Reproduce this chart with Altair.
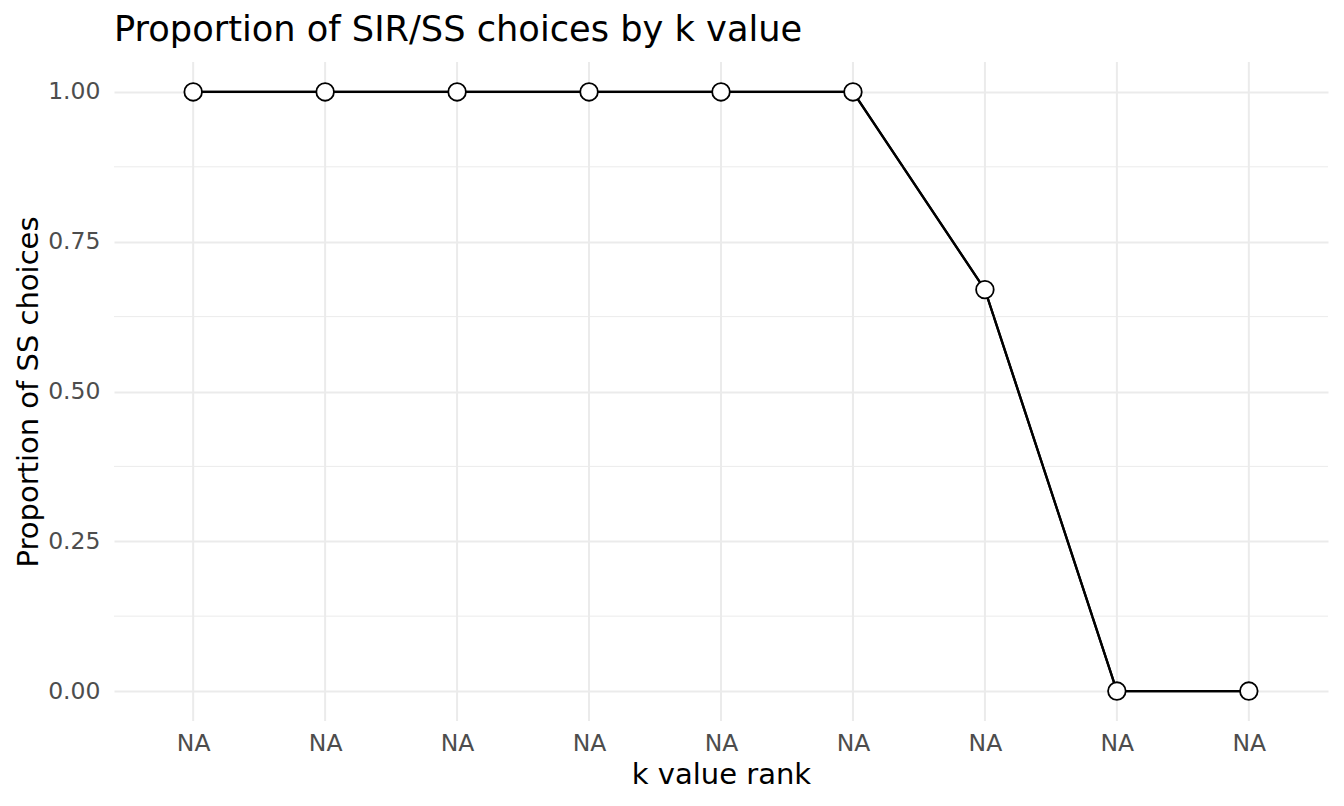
import altair as alt
import pandas as pd

# data
k_rank = [1, 2, 3, 4, 5, 6, 7, 8, 9]
tick_labels = ["NA", "NA", "NA", "NA", "NA", "NA", "NA", "NA", "NA"]
prop_ss = [1.0, 1.0, 1.0, 1.0, 1.0, 1.0, 0.67, 0.0, 0.0]
y_major = [0.0, 0.25, 0.5, 0.75, 1.0]
y_minor = [0.125, 0.375, 0.625, 0.875]

df = pd.DataFrame({"rank": k_rank, "prop": prop_ss})
minor_df = pd.DataFrame({"v": y_minor})

label_map = {str(k): lab for k, lab in zip(k_rank, tick_labels)}
label_expr = "{" + ",".join(f"'{k}':'{v}'" for k, v in label_map.items()) + "}[datum.label]"

FONT = "DejaVu Sans"
GRID = "#EBEBEB"

x_enc = alt.X(
    "rank:O",
    scale=alt.Scale(type="point", padding=0.6),
    axis=alt.Axis(
        title="k value rank",
        labelExpr=label_expr,
        labelAngle=0,
        grid=False,
        ticks=False,
        domain=False,
        labelFontSize=23.5,
        labelColor="#4D4D4D",
        labelPadding=10,
        titleFontSize=29,
        titleColor="black",
        titleFontWeight="normal",
        titlePadding=6,
    ),
)
y_scale = alt.Scale(domain=[-0.05, 1.05], nice=False, zero=False)
y_enc = alt.Y(
    "prop:Q",
    scale=y_scale,
    axis=alt.Axis(
        title="Proportion of SS choices",
        values=y_major,
        format=".2f",
        grid=True,
        gridColor=GRID,
        gridWidth=2,
        ticks=False,
        domain=False,
        labelFontSize=23.5,
        labelColor="#4D4D4D",
        labelPadding=14,
        titleFontSize=29,
        titleColor="black",
        titleFontWeight="normal",
        titlePadding=4,
    ),
)

minor = alt.Chart(minor_df).mark_rule(color=GRID, strokeWidth=1).encode(
    y=alt.Y("v:Q", scale=y_scale)
)
vgrid = alt.Chart(df).mark_rule(color=GRID, strokeWidth=2).encode(x=alt.X("rank:O"))
line = alt.Chart(df).mark_line(color="black", strokeWidth=2.3).encode(x=x_enc, y=y_enc)
pts = alt.Chart(df).mark_point(
    filled=True, fill="white", stroke="black", strokeWidth=1.8, size=310, opacity=1
).encode(x=alt.X("rank:O"), y=alt.Y("prop:Q"))

chart = (
    alt.layer(line, minor, vgrid, line, pts)
    .properties(
        width=1214,
        height=659,
        title=alt.TitleParams(
            "Proportion of SIR/SS choices by k value",
            anchor="start",
            frame="group",
            fontSize=35.2,
            fontWeight="normal",
            font=FONT,
            color="black",
            offset=20,
            dy=35,
            baseline="alphabetic",
        ),
        autosize=alt.AutoSizeParams(type="none"),
        padding={"left": 106, "top": 54, "right": 8, "bottom": 77},
    )
    .configure(font=FONT)
    .configure_view(stroke=None)
    .configure_axis(labelFont=FONT, titleFont=FONT)
)

chart.save("out.html", embed_options={"renderer": "svg", "actions": False})
